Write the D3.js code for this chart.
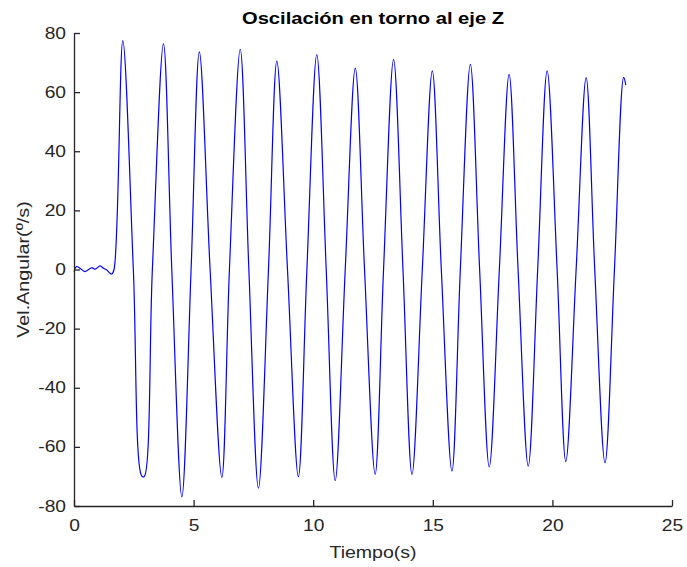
<!DOCTYPE html>
<html>
<head>
<meta charset="utf-8">
<script src="https://cdn.jsdelivr.net/npm/d3@7"></script>
<style>
  body { margin: 0; background: #fff; }
  svg { display: block; }
  .axis path, .axis line { stroke: #262626; stroke-width: 1.3px; }
  .axis text { fill: #262626; font-family: "Liberation Sans", Arial, sans-serif; font-size: 16px; }
</style>
</head>
<body>
<svg id="chart" width="687" height="567"></svg>
<script>
// Angular velocity samples (time in s, velocity in deg/s): idle start, then peaks,
// troughs and zero crossings of the oscillation about the Z axis.
const timeS = [
  0, 0.11, 0.25, 0.46, 0.74, 0.88, 1.09, 1.23, 1.37, 1.51, 1.58,
  1.674, 2.04, 2.481, 2.83, 2.93, 3.276, 3.74, 4.088, 4.51, 4.895, 5.24, 5.69,
  6.18, 6.498, 6.95, 7.31, 7.71, 8.13, 8.48, 8.925, 9.38, 9.736, 10.15, 10.544,
  10.92, 11.339, 11.76, 12.146, 12.59, 12.941, 13.36, 13.753, 14.13, 14.561,
  14.98, 15.356, 15.80, 16.151, 16.57, 16.958, 17.36, 17.782, 18.19, 18.565,
  18.99, 19.385, 19.78, 20.197, 20.56, 20.992, 21.41, 21.77, 22.20, 22.594,
  22.98, 23.07
];
const velDegS = [
  -0.7, 1.0, 0.4, -0.7, 0.6, 0.1, 1.2, 0.4, -0.2, -1.3, -1.5,
  0, 77.4, 0, -69.8, -70.1, 0, 76.3, 0, -76.9, 0, 73.6, 0,
  -70.3, 0, 74.5, 0, -74.0, 0, 70.5, 0, -70.1, 0, 72.7, 0,
  -71.4, 0, 68.1, 0, -69.3, 0, 71.1, 0, -69.3, 0,
  67.2, 0, -68.2, 0, 69.4, 0, -66.8, 0, 66.0, 0,
  -66.5, 0, 67.2, 0, -65.0, 0, 64.9, 0, -65.4, 0,
  65.0, 62.4
];
const xTicks = [0, 5, 10, 15, 20, 25];
const yTicks = [-80, -60, -40, -20, 0, 20, 40, 60, 80];

const titleText = "Oscilación en torno al eje Z";
const xLabel = "Tiempo(s)";
const yLabel = "Vel.Angular(º/s)";

// Horizontal widening applied to every label along its baseline
const WIDEN = 1.2;

const samples = timeS.map((t, i) => ({ t, v: velDegS[i] }));

const svg = d3.select("#chart");
const plot = { left: 74, right: 672, top: 33, bottom: 506 };

const x = d3.scaleLinear().domain([0, 25]).range([plot.left, plot.right]);
const y = d3.scaleLinear().domain([-80, 80]).range([plot.bottom, plot.top]);

// Signal trace
const line = d3.line()
  .x(d => x(d.t))
  .y(d => y(d.v))
  .curve(d3.curveCatmullRom.alpha(0.5));

svg.append("path")
  .datum(samples)
  .attr("fill", "none")
  .attr("stroke", "#0000ff")
  .attr("stroke-width", 1.2)
  .attr("d", line);

// Axes with inward ticks
const xAxisG = svg.append("g")
  .attr("class", "axis")
  .attr("transform", `translate(0,${plot.bottom})`)
  .call(d3.axisBottom(x).tickValues(xTicks).tickFormat(d3.format("d"))
    .tickSizeInner(-6).tickSizeOuter(0).tickPadding(14));

const yAxisG = svg.append("g")
  .attr("class", "axis")
  .attr("transform", `translate(${plot.left},0)`)
  .call(d3.axisLeft(y).tickValues(yTicks).tickFormat(d3.format("d"))
    .tickSizeInner(-6).tickSizeOuter(0).tickPadding(8 / WIDEN));

svg.selectAll(".axis text")
  .text(function () { return this.textContent.replace("−", "-"); })
  .attr("transform", `scale(${WIDEN},1)`);

// Title and axis labels
svg.append("text")
  .attr("transform", `translate(${(plot.left + plot.right) / 2},24) scale(${WIDEN},1)`)
  .attr("text-anchor", "middle")
  .attr("font-family", "Liberation Sans, Arial, sans-serif")
  .attr("font-weight", "bold")
  .attr("font-size", 16.8)
  .attr("fill", "#000")
  .text(titleText);

svg.append("text")
  .attr("transform", `translate(${(plot.left + plot.right) / 2},558) scale(1.15,1)`)
  .attr("text-anchor", "middle")
  .attr("font-family", "Liberation Sans, Arial, sans-serif")
  .attr("font-size", 17)
  .attr("fill", "#262626")
  .text(xLabel);

svg.append("text")
  .attr("transform", `translate(29,${(plot.top + plot.bottom) / 2}) rotate(-90) scale(1.16,1)`)
  .attr("text-anchor", "middle")
  .attr("font-family", "Liberation Sans, Arial, sans-serif")
  .attr("font-size", 17)
  .attr("fill", "#262626")
  .text(yLabel);
</script>
</body>
</html>
